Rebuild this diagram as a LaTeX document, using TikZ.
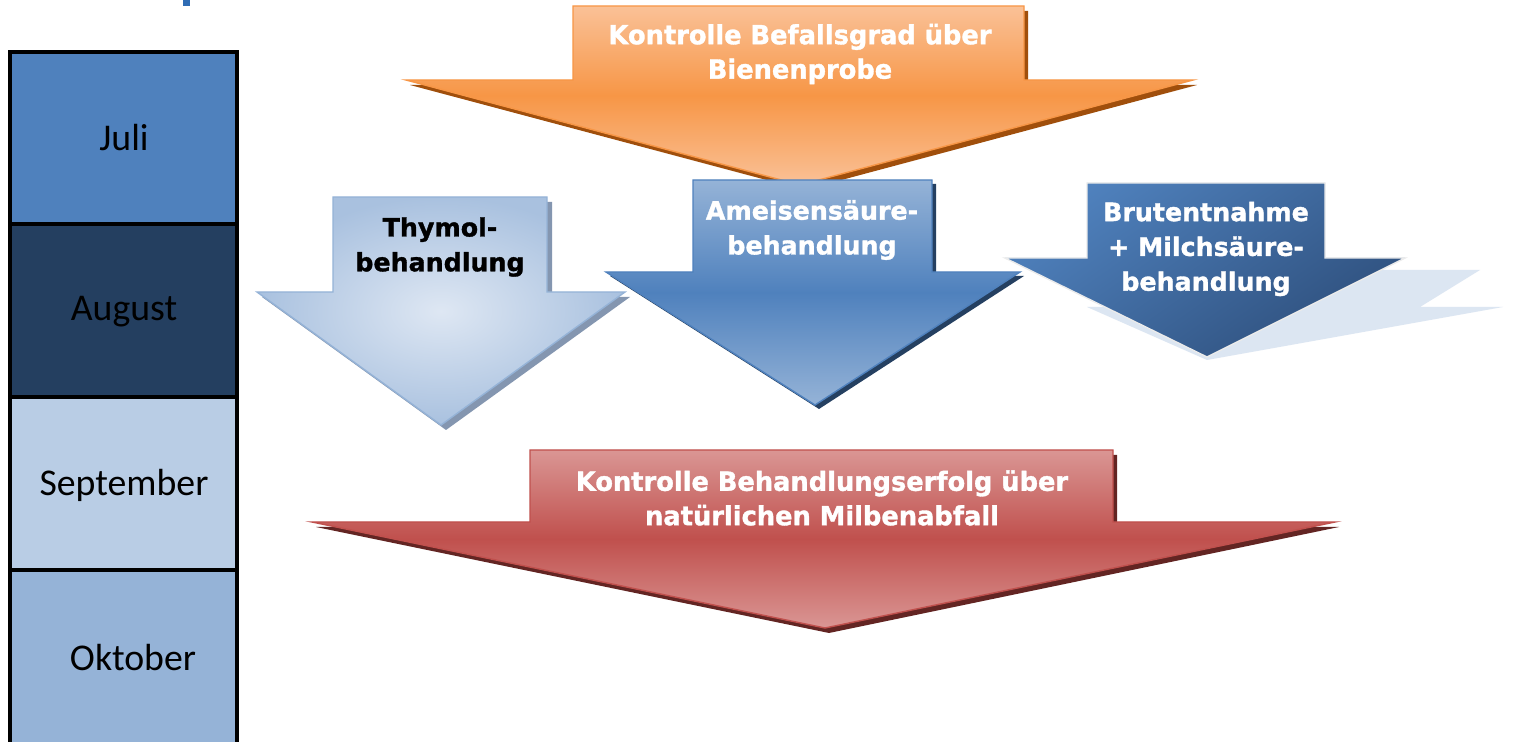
\documentclass[tikz,border=0pt]{standalone}
\usepackage{fontspec}
\setmainfont{DejaVu Sans}[BoldFeatures={FakeBold=1.3}]
\newfontfamily\monthfont{Carlito}
\definecolor{julC}{HTML}{4F81BD}
\definecolor{augC}{HTML}{243F60}
\definecolor{sepC}{HTML}{B9CDE5}
\definecolor{oktC}{HTML}{95B3D7}
\definecolor{orLight}{HTML}{FAC197}
\definecolor{orMid}{HTML}{F79646}
\definecolor{orDark}{HTML}{A04F0C}
\definecolor{amLight}{HTML}{95B3D7}
\definecolor{amMid}{HTML}{4F81BD}
\definecolor{amDark}{HTML}{254061}
\definecolor{thIn}{HTML}{DEE7F3}
\definecolor{thOut}{HTML}{A9C1DF}
\definecolor{thLine}{HTML}{95B3D7}
\definecolor{thShadow}{HTML}{8496B0}
\definecolor{brA}{HTML}{4F81BD}
\definecolor{brB}{HTML}{2E4F7C}
\definecolor{brRefl}{HTML}{DCE6F2}
\definecolor{rdLight}{HTML}{DA9694}
\definecolor{rdMid}{HTML}{C0504D}
\definecolor{rdDark}{HTML}{632523}
\definecolor{titleblue}{HTML}{2F6DB5}
\newcommand{\narrowtxt}[1]{\scalebox{0.975}[1]{#1}}
\tikzset{
  monthbox/.style={draw=black, line width=2.2pt},
  monthtxt/.style={font=\monthfont\fontsize{21.5}{25}\selectfont, text=black},
  bigtxt/.style={font=\bfseries\fontsize{15}{19.6}\selectfont, text=white, align=center, inner sep=0pt},
  medtxt/.style={font=\bfseries\fontsize{14.4}{19.8}\selectfont, align=center, inner sep=0pt},
}
\begin{document}
\begin{tikzpicture}[x=0.02cm,y=-0.02cm]
\useasboundingbox (0,0) rectangle (1514,742);
\clip (0,0) rectangle (1514,742);
\fill[white] (0,0) rectangle (1514,742);
% cut-off title fragment
\fill[titleblue] (183,0) rectangle (190,6);

% month column
\draw[monthbox, fill=julC] (10,52) rectangle (237,224);
\draw[monthbox, fill=augC] (10,224) rectangle (237,397);
\draw[monthbox, fill=sepC] (10,397) rectangle (237,570);
\draw[monthbox, fill=oktC] (10,570) rectangle (237,760);
\node[monthtxt] (juli) at (124,138) {Juli};
\node[monthtxt] (aug) at (124,312) {August};
\node[monthtxt] (sep) at (124,485) {September};
\node[monthtxt] (okt) at (133,658) {Oktober};

% orange arrow
\fill[orDark] ([shift={(4,5)}]573,6) -- ++(451,0) -- ++(0,74) -- ++(169,0) -- ++(-393,105) -- ++(-394,-105) -- ++(167,0) -- cycle;
\path[draw=orMid, line width=0.8pt, top color=orLight, bottom color=orLight, middle color=orMid]
  (573,6) -- (1024,6) -- (1024,80) -- (1193,80) -- (800,185) -- (406,80) -- (573,80) -- cycle;
\node[bigtxt] (befall) at (800,54) {\narrowtxt{Kontrolle Befallsgrad über}\\\narrowtxt{Bienenprobe}};

% Brutentnahme reflection and arrow
\fill[brRefl] (1207,360) -- (1087,307) -- (1300,307) -- (1325,270) -- (1480,270) -- (1420,307) -- (1503,307) -- cycle;
\path[draw=white!92!black, line width=0.8pt, top color=brA, bottom color=brB, shading angle=35]
  (1087,183) -- (1325,183) -- (1325,258) -- (1405,258) -- (1207,357) -- (1005,258) -- (1087,258) -- cycle;
\node[medtxt, text=white] (brut) at (1206,249) {Brutentnahme\\+ Milchsäure-\\behandlung};

% Thymol arrow
\fill[thShadow] ([shift={(5,5)}]333,197) -- ++(214,0) -- ++(0,95) -- ++(78,0) -- ++(-184,133) -- ++(-184,-133) -- ++(76,0) -- cycle;
\path[draw=thLine, line width=0.8pt, inner color=thIn, outer color=thOut]
  (333,197) -- (547,197) -- (547,292) -- (625,292) -- (441,425) -- (257,292) -- (333,292) -- cycle;
\node[medtxt, text=black] (thymol) at (440,247) {Thymol-\\behandlung};

% Ameisensaeure arrow
\fill[amDark] ([shift={(4,4)}]693,180) -- ++(239,0) -- ++(0,92) -- ++(88,0) -- ++(-205,133) -- ++(-209,-133) -- ++(87,0) -- cycle;
\path[draw=amMid, line width=0.8pt, top color=amLight, bottom color=amLight, middle color=amMid]
  (693,180) -- (932,180) -- (932,272) -- (1020,272) -- (815,405) -- (606,272) -- (693,272) -- cycle;
\node[medtxt, text=white] (ameisen) at (812,230) {Ameisensäure-\\behandlung};

% red arrow
\fill[rdDark] ([shift={(4,5)}]530,450) -- ++(583,0) -- ++(0,72) -- ++(222,0) -- ++(-510,106) -- ++(-513,-106) -- ++(218,0) -- cycle;
\path[draw=rdMid, line width=0.8pt, top color=rdLight, bottom color=rdLight, middle color=rdMid]
  (530,450) -- (1113,450) -- (1113,522) -- (1335,522) -- (825,628) -- (312,522) -- (530,522) -- cycle;
\node[bigtxt] (erfolg) at (822,498) {\narrowtxt{Kontrolle Behandlungserfolg über}\\\narrowtxt{natürlichen Milbenabfall}};
\end{tikzpicture}
\end{document}
